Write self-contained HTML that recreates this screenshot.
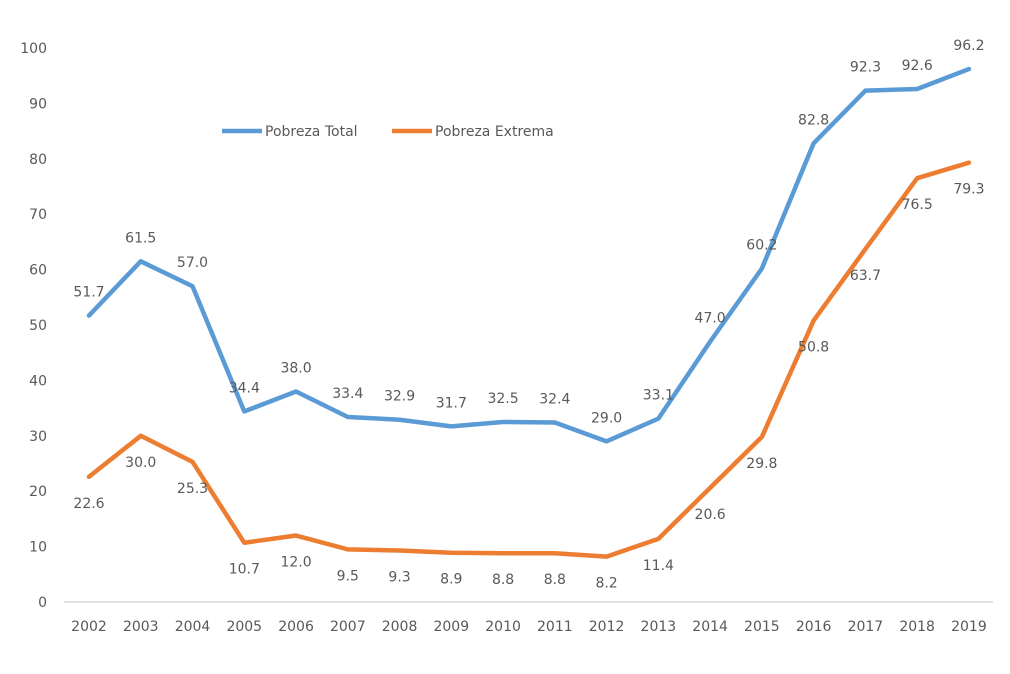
<!DOCTYPE html>
<html><head><meta charset="utf-8"><style>
body{margin:0;background:#fff;}
svg{display:block;font-family:"DejaVu Sans","Liberation Sans",sans-serif;}
text{fill:#595959;font-size:14px;}
</style></head><body>
<svg id="chart" width="1010" height="674">
<rect width="1010" height="674" fill="#fff"/>
<g id="yaxis"></g>
<g id="xaxis"></g>
<g id="series"></g>
<g id="legend">
<line x1="222" y1="131" x2="262" y2="131" stroke="#5B9BD5" stroke-width="4.5"/>
<text x="265" y="136">Pobreza Total</text>
<line x1="392" y1="131" x2="432" y2="131" stroke="#ED7D31" stroke-width="4.5"/>
<text x="435" y="136">Pobreza Extrema</text>
</g>
</svg>
<script>
const years=["2002","2003","2004","2005","2006","2007","2008","2009","2010","2011","2012","2013","2014","2015","2016","2017","2018","2019"];
const total=[51.7,61.5,57.0,34.4,38.0,33.4,32.9,31.7,32.5,32.4,29.0,33.1,47.0,60.2,82.8,92.3,92.6,96.2];
const extrema=[22.6,30.0,25.3,10.7,12.0,9.5,9.3,8.9,8.8,8.8,8.2,11.4,20.6,29.8,50.8,63.7,76.5,79.3];
const yTicks=[0,10,20,30,40,50,60,70,80,90,100];
const NS="http://www.w3.org/2000/svg";
const x=i=>89+i*51.76;
const y=v=>602-v*5.54;
function mk(tag,attrs,parent,txt){const e=document.createElementNS(NS,tag);for(const k in attrs)e.setAttribute(k,attrs[k]);if(txt!==undefined)e.textContent=txt;parent.appendChild(e);return e;}
const ya=document.getElementById('yaxis'),xa=document.getElementById('xaxis'),sg=document.getElementById('series');
yTicks.forEach(t=>{const e=mk('text',{x:47,y:y(t)+5,'text-anchor':'end'},ya,String(t));

});
const al=mk('line',{x1:64,y1:602,x2:993,y2:602,stroke:'#d9d9d9','stroke-width':1.5},xa);


years.forEach((yr,i)=>{const e=mk('text',{x:x(i),y:631,'text-anchor':'middle'},xa,yr);

});
function series(vals,color,name,off){
const p=mk('polyline',{points:vals.map((v,i)=>x(i)+','+y(v)).join(' '),fill:'none',stroke:color,'stroke-width':4.5,'stroke-linejoin':'round','stroke-linecap':'round'},sg);


vals.forEach((v,i)=>{const t=mk('text',{x:x(i),y:y(v)+off+5,'text-anchor':'middle'},sg,v.toFixed(1));

});
}
series(total,'#5B9BD5','pobreza-total',-24);
series(extrema,'#ED7D31','pobreza-extrema',26);
</script>
</body></html>
